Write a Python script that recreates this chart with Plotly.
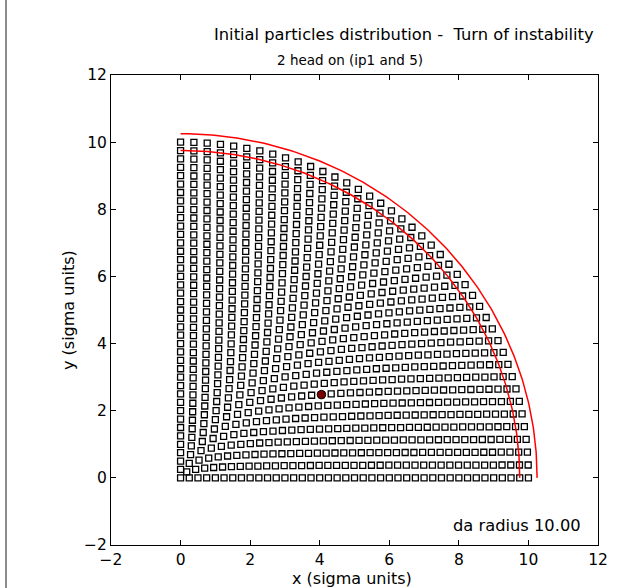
import numpy as np
import plotly.graph_objects as go

# Initial amplitudes: rings of constant radius (sigma units), each ring
# sampled evenly from 0 to 90 degrees with the given number of particles.
ring_radii = [0.25 * i for i in range(41)]
ring_counts = [1] + [i + 2 for i in range(1, 41)]

# Particle that became unstable
unstable_x = [4.05]
unstable_y = [2.48]

# Dynamic aperture radius and the band drawn around it
da_radius = 10.0
da_band = [9.75, 10.25]

x_ticks = [-2, 0, 2, 4, 6, 8, 10, 12]
y_ticks = [-2, 0, 2, 4, 6, 8, 10, 12]

px, py = [], []
for r, n in zip(ring_radii, ring_counts):
    ang = np.radians(np.linspace(0.0, 90.0, n)) if n > 1 else np.array([0.0])
    px.extend(r * np.cos(ang))
    py.extend(r * np.sin(ang))

fig = go.Figure()

fig.add_trace(go.Scatter(
    x=px, y=py, mode="markers",
    marker=dict(symbol="square-open", size=6, color="black",
                line=dict(width=1.3, color="black")),
    hoverinfo="skip", showlegend=False))

theta = np.radians(np.linspace(0.0, 90.0, 200))
for rb in da_band:
    fig.add_trace(go.Scatter(
        x=rb * np.cos(theta), y=rb * np.sin(theta), mode="lines",
        line=dict(color="red", width=1.5), hoverinfo="skip", showlegend=False))

fig.add_trace(go.Scatter(
    x=unstable_x, y=unstable_y, mode="markers",
    marker=dict(symbol="circle", size=8.5, color="#7a0000",
                line=dict(width=1, color="black")),
    hoverinfo="skip", showlegend=False))

L, R, T, B = 111, 26, 75, 43
W, H = 624, 588
pw, ph = W - L - R, H - T - B


def pxx(v):
    return (v - L) / pw


def pyy(v):
    return (H - B - v) / ph


font = dict(family="DejaVu Sans", color="black")
axis_common = dict(
    showgrid=False, zeroline=False, showline=True, linecolor="black",
    linewidth=1, mirror="allticks", ticks="inside", ticklen=5,
    tickwidth=1, tickcolor="black", tickfont=dict(size=15.5, **font))

fig.update_xaxes(range=[-2, 12], tickvals=x_ticks,
                 ticktext=[str(v).replace("-", "\u2212") for v in x_ticks],
                 **axis_common)
fig.update_yaxes(range=[-2, 12], tickvals=y_ticks,
                 ticktext=[str(v).replace("-", "\u2212") for v in y_ticks],
                 **axis_common)

annotations = [
    dict(text="Initial particles distribution -  Turn of instability",
         x=pxx(404), y=pyy(34), font=dict(size=16.3, **font)),
    dict(text="2 head on (ip1 and 5)", x=pxx(350), y=pyy(60),
         font=dict(size=13.5, **font)),
    dict(text="da radius %.2f" % da_radius, x=pxx(583), y=pyy(525),
         xanchor="right", font=dict(size=16.3, **font)),
    dict(text="x (sigma units)", x=pxx(352), y=pyy(578.5),
         font=dict(size=16, **font)),
    dict(text="y (sigma units)", x=pxx(68), y=pyy(310), textangle=-90,
         font=dict(size=16, **font)),
]
for a in annotations:
    a.setdefault("xanchor", "center")
    a.update(xref="paper", yref="paper", showarrow=False, yanchor="middle")

fig.update_layout(
    width=W, height=H,
    margin=dict(l=L, r=R, t=T, b=B, pad=0),
    paper_bgcolor="white", plot_bgcolor="white",
    annotations=annotations,
    shapes=[dict(type="line", xref="paper", yref="paper",
                 x0=pxx(6), x1=pxx(6), y0=pyy(0), y1=pyy(588),
                 line=dict(color="#666666", width=1.5))],
)

fig.write_html("out.html")
